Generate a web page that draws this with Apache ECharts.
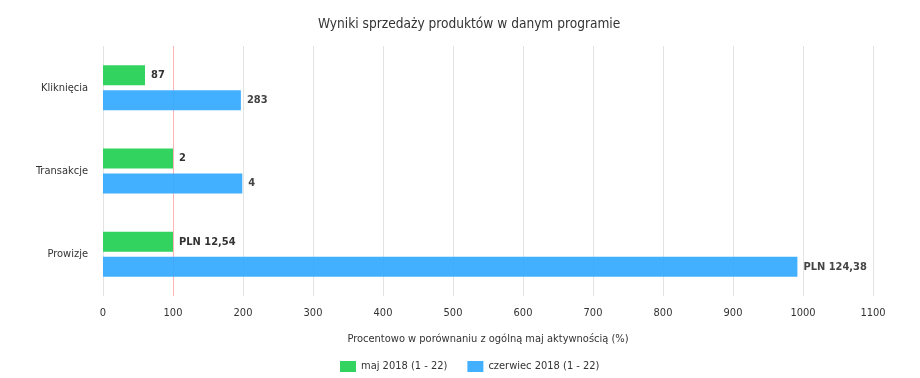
<!DOCTYPE html>
<html>
<head>
<meta charset="utf-8">
<script src="https://cdn.jsdelivr.net/npm/echarts@6/dist/echarts.min.js"></script>
<style>
  html, body { margin: 0; padding: 0; background: #fff; }
  #chart { width: 920px; height: 378px; }
</style>
</head>
<body>
<div id="chart"></div>
<script>
// kategorie
const categories = ['Kliknięcia', 'Transakcje', 'Prowizje'];
const seriesNames = ['maj 2018 (1 - 22)', 'czerwiec 2018 (1 - 22)'];

// procent w porownaniu z maj
const majPercent = [60, 100, 100];
const czerwiecPercent = [197, 199, 992];

// etykiety przy slupkach
const majLabels = ['87', '2', 'PLN 12,54'];
const czerwiecLabels = ['283', '4', 'PLN 124,38'];

// os X
const axisMax = 1100;
const axisStep = 100;
// linia odniesienia 100%
const referenceLine = 100;

const font = 'DejaVu Sans Condensed, DejaVu Sans, sans-serif';
const refColor = '#ffb4b4';

// kolory linii siatki - linia 100% na czerwono
const gridColors = [];
for (let v = 0; v <= axisMax; v += axisStep) {
    gridColors.push(v === referenceLine ? refColor : '#e3e3e3');
}

const chart = echarts.init(document.getElementById('chart'));

function barLabel(labels) {
    return {
        show: true,
        position: 'right',
        distance: 6,
        fontFamily: font,
        fontSize: 11,
        fontWeight: 'bold',
        color: '#333',
        formatter: p => labels[p.dataIndex]
    };
}

chart.setOption({
    animation: false,
    color: ['#33d35f', '#33a9ff'],
    title: {
        text: 'Wyniki sprzedaży produktów w danym programie',
        left: 313,
        top: 12,
        textStyle: { fontFamily: font, fontSize: 13.6, fontWeight: 'normal', color: '#333' }
    },
    legend: {
        bottom: 1,
        left: 335,
        itemWidth: 16,
        itemHeight: 11,
        itemGap: 20,
        icon: 'rect',
        textStyle: { fontFamily: font, fontSize: 11, color: '#333' },
        data: seriesNames
    },
    grid: { left: 103, right: 47, top: 46, bottom: 82 },
    xAxis: {
        type: 'value',
        min: 0,
        max: axisMax,
        interval: axisStep,
        name: 'Procentowo w porównaniu z ogólną maj aktywnością (%)',
        nameLocation: 'middle',
        nameGap: 38,
        nameTextStyle: { fontFamily: font, fontSize: 11, color: '#333' },
        axisLine: { show: false },
        axisTick: { show: false },
        axisLabel: { fontFamily: font, fontSize: 11, color: '#333', margin: 12, formatter: v => String(v) },
        splitLine: { lineStyle: { color: gridColors } }
    },
    yAxis: {
        type: 'category',
        inverse: true,
        data: categories,
        axisLine: { show: false },
        axisTick: { show: false },
        splitLine: { show: false },
        axisLabel: { fontFamily: font, fontSize: 11, color: '#333', margin: 15 }
    },
    series: [
        {
            name: seriesNames[0],
            type: 'bar',
            data: majPercent,
            barWidth: 20,
            barGap: '25%',
            z: 2,
            itemStyle: { borderWidth: 0 },
            label: barLabel(majLabels),
            markLine: {
                z: 1,
                silent: true,
                symbol: 'none',
                animation: false,
                label: { show: false },
                lineStyle: { color: refColor, type: 'solid', width: 1, opacity: 1 },
                data: [{ xAxis: referenceLine }]
            }
        },
        {
            name: seriesNames[1],
            type: 'bar',
            data: czerwiecPercent,
            barWidth: 20,
            barGap: '25%',
            z: 2,
            itemStyle: { borderWidth: 0, opacity: 0.92 },
            label: barLabel(czerwiecLabels)
        }
    ]
});
</script>
</body>
</html>
